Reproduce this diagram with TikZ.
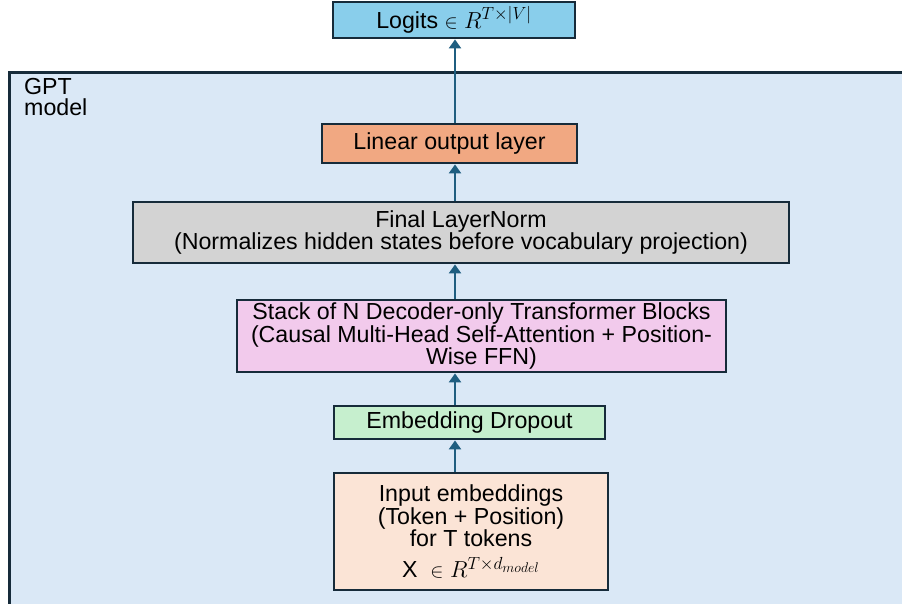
\RequirePackage{fix-cm}
\documentclass[tikz,border=0pt]{standalone}
\usepackage{amsmath}
\usepackage{fontspec}
\setmainfont{Liberation Sans}
\usepackage{xcolor}
\usepackage{graphicx}
\usepackage{tikz}
\usetikzlibrary{positioning,arrows.meta}
\DeclareMathSizes{23.2}{23.2}{17.5}{14}
\newcommand{\smallin}{\mathrel{\scalebox{0.85}{$\in$}}}
\definecolor{gptframe}{RGB}{218,232,246}
\definecolor{gptedge}{RGB}{22,43,58}
\definecolor{gptarrow}{RGB}{31,94,128}
\definecolor{gptsky}{RGB}{137,206,235}
\definecolor{gptorange}{RGB}{241,168,130}
\definecolor{gptgray}{RGB}{211,211,211}
\definecolor{gptpink}{RGB}{242,202,236}
\definecolor{gptgreen}{RGB}{198,239,206}
\definecolor{gptpeach}{RGB}{251,228,214}

\begin{document}
\begin{tikzpicture}[
    x=1pt, y=-1pt,
    font=\fontsize{23.2}{22.8}\selectfont,
    layer/.style={rectangle, draw=gptedge, line width=2.8pt, align=center, inner sep=0pt},
    frame/.style={rectangle, draw=gptedge, line width=3.2pt, fill=gptframe, anchor=north west, minimum width=920pt, minimum height=560pt},
    flow/.style={-{Triangle[length=9pt, width=12pt]}, line width=2.8pt, draw=gptarrow},
    note/.style={align=left, anchor=north west, inner sep=0pt, font=\fontsize{23.2}{21.5}\selectfont}
  ]
    \useasboundingbox (0,0) rectangle (902,604);
    \clip (0,0) rectangle (902,604);

    \node[frame] (gpt) at (8,71) {};
    \node[note] (gptlabel) at (24,78) {GPT\\model};

    \coordinate (spine) at (455,0);

    \node[layer, fill=gptsky, minimum width=242pt, minimum height=36pt] (logits) at (454,20) {Logits $\smallin R^{T\times|V|}$};
    \node[layer, fill=gptorange, minimum width=255pt, minimum height=39pt] (linear) at (449.5,143.5) {Linear output layer};
    \node[layer, fill=gptgray, minimum width=656pt, minimum height=61pt] (norm) at (461,232.5) {Final LayerNorm\\(Normalizes hidden states before vocabulary projection)};
    \node[layer, fill=gptpink, minimum width=489pt, minimum height=72pt] (stack) at (481.5,336) {Stack of N Decoder-only Transformer Blocks\\(Causal Multi-Head Self-Attention + Position-\\Wise FFN)};
    \node[layer, fill=gptgreen, minimum width=271pt, minimum height=33pt] (drop) at (469.5,422.5) {Embedding Dropout};
    \node[layer, fill=gptpeach, minimum width=274pt, minimum height=117pt] (inp) at (471,531.5) {Input embeddings\\(Token + Position)\\for T tokens\\[8pt]X\ \ $\smallin R^{T\times d_{model}}$};

    \draw[flow] (inp.north -| spine) -- (drop.south -| spine);
    \draw[flow] (drop.north -| spine) -- (stack.south -| spine);
    \draw[flow] (stack.north -| spine) -- (norm.south -| spine);
    \draw[flow] (norm.north -| spine) -- (linear.south -| spine);
    \draw[flow] (linear.north -| spine) -- (logits.south -| spine);
  \end{tikzpicture}
\end{document}
